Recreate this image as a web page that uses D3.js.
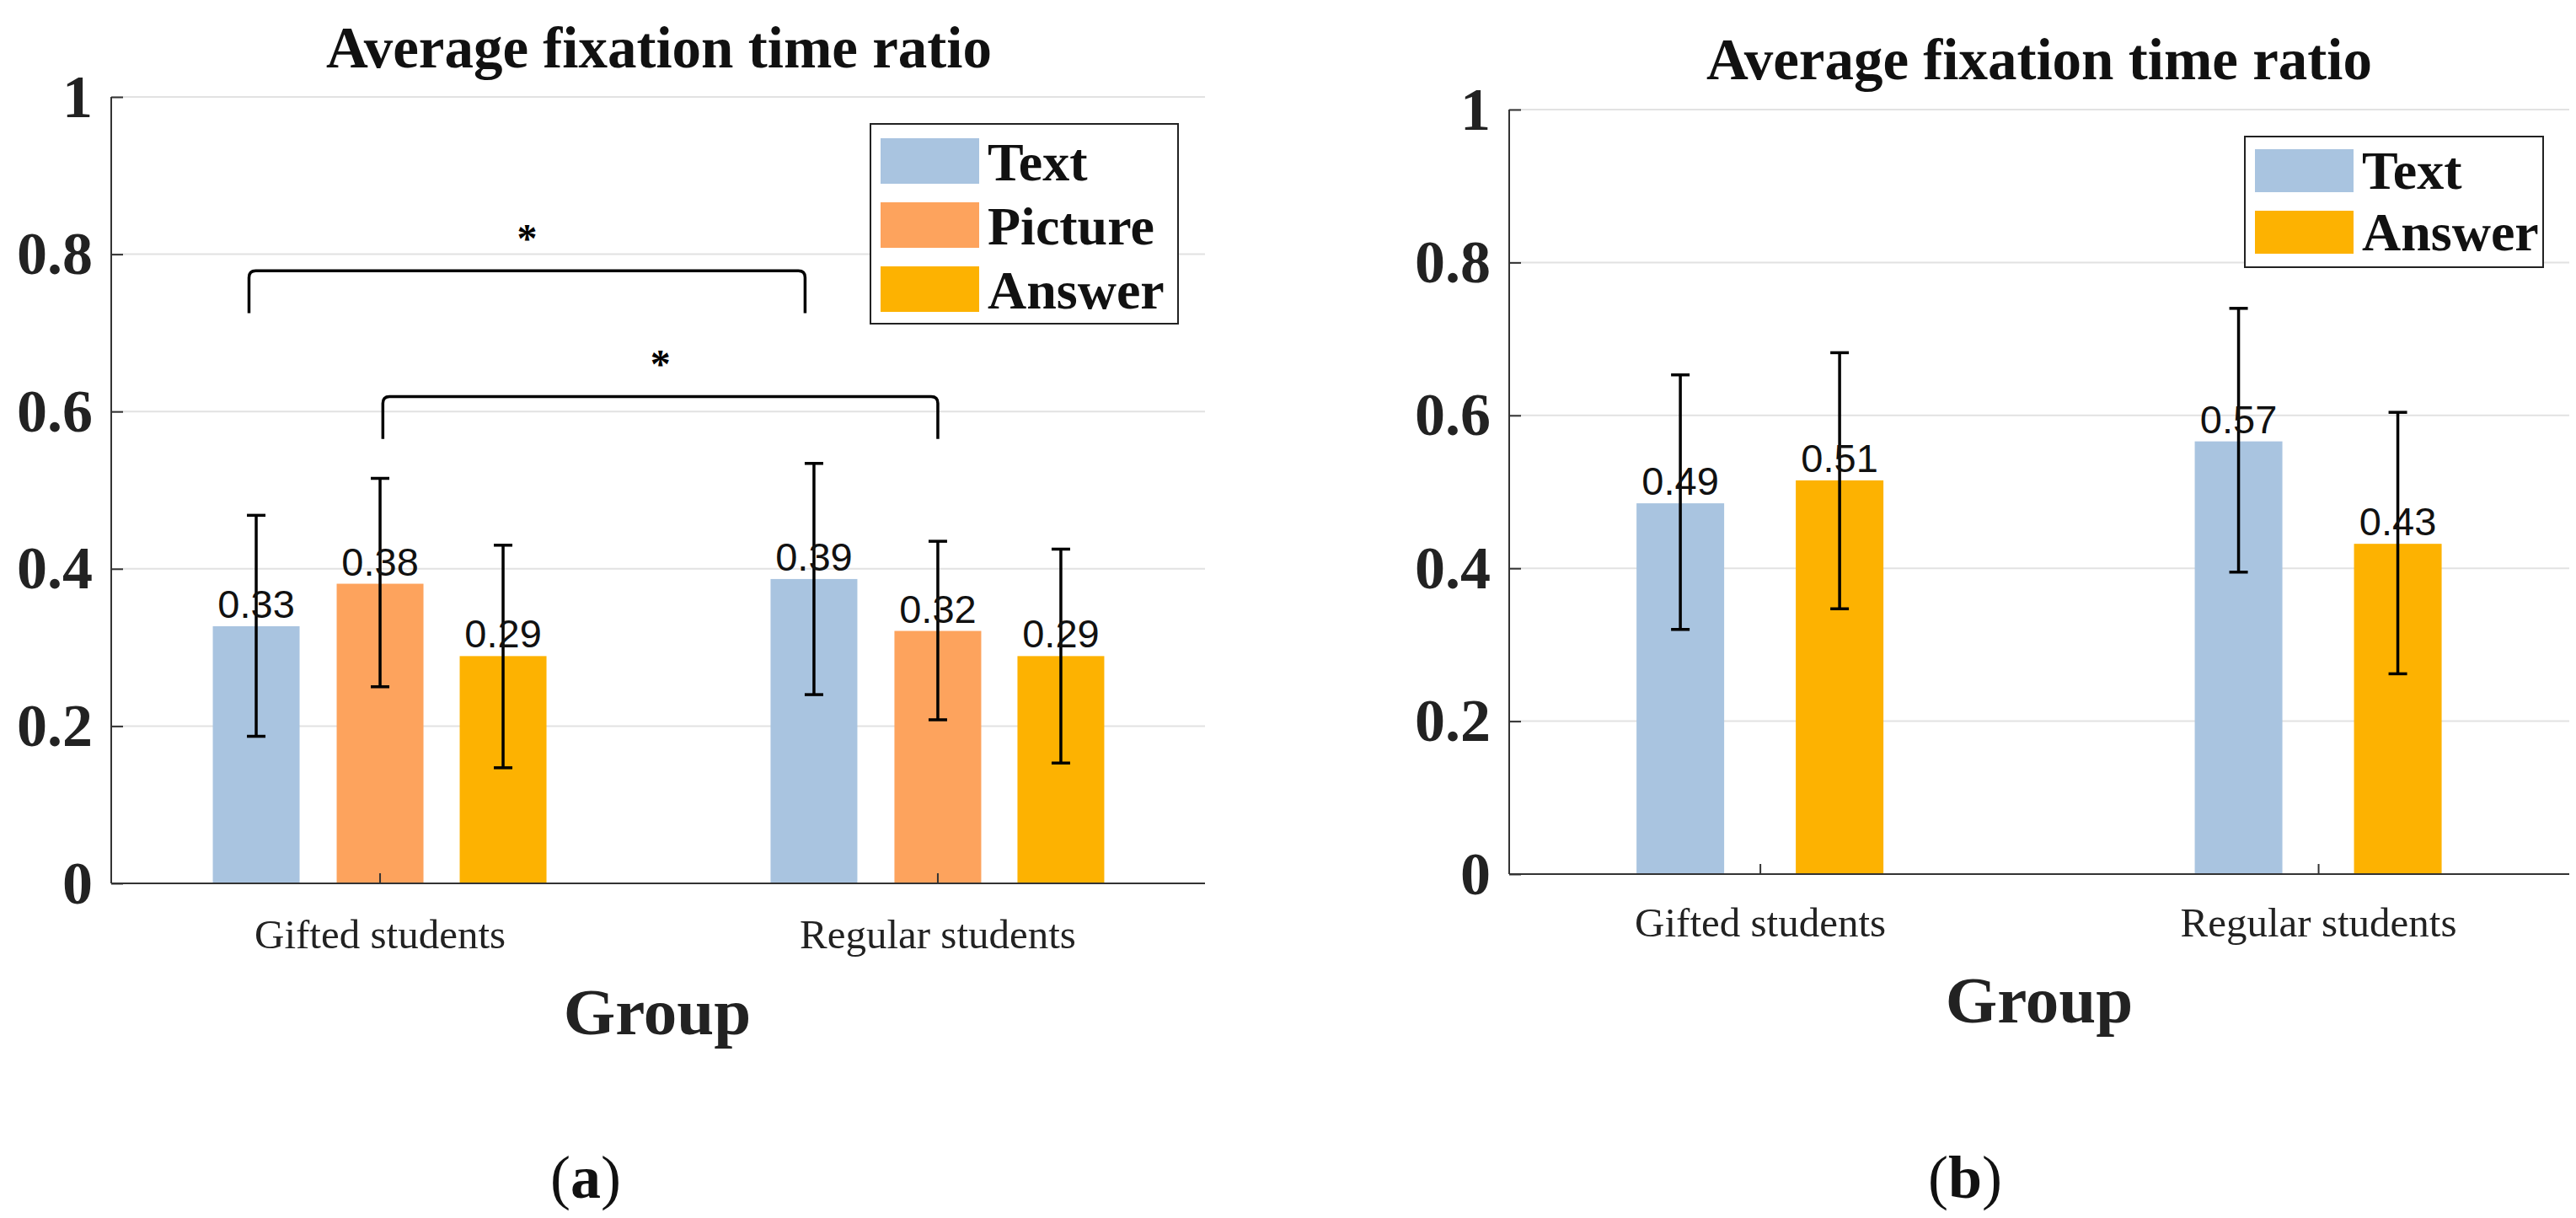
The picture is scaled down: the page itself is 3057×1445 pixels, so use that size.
<!DOCTYPE html>
<html><head><meta charset="utf-8">
<script src="https://cdn.jsdelivr.net/npm/d3@7/dist/d3.min.js"></script>
<style>body{margin:0;background:#fff}</style></head>
<body><svg id="c" width="3057" height="1445"></svg>
<script>
const categories = ["Gifted students", "Regular students"];
const yTicks = [0, 0.2, 0.4, 0.6, 0.8, 1];
const yTickLabels = ["0", "0.2", "0.4", "0.6", "0.8", "1"];
// Panel (a)
const seriesA = ["Text", "Picture", "Answer"];
const valuesA = [[0.327, 0.381, 0.289], [0.387, 0.321, 0.289]];
const labelsA = [["0.33", "0.38", "0.29"], ["0.39", "0.32", "0.29"]];
const errLowA = [[0.187, 0.250, 0.147], [0.240, 0.208, 0.153]];
const errHighA = [[0.468, 0.515, 0.430], [0.534, 0.435, 0.425]];
// significance brackets: [x1, x2, top, bottom]
const bracketsA = [[0.765, 1.762, 0.779, 0.725], [1.005, 2.0, 0.619, 0.565]];
// Panel (b)
const seriesB = ["Text", "Answer"];
const valuesB = [[0.485, 0.515], [0.566, 0.432]];
const labelsB = [["0.49", "0.51"], ["0.57", "0.43"]];
const errLowB = [[0.320, 0.347], [0.395, 0.262]];
const errHighB = [[0.653, 0.682], [0.740, 0.604]];
const colors = {Text: "#a9c4e0", Picture: "#fda35d", Answer: "#fdb201"};

const svg = d3.select("#c");
const serif = "'Liberation Serif','Times New Roman',serif";

function panel(o) {
  const g = svg.append("g");
  const x = d3.scaleLinear().domain(o.xDomain).range([o.left, o.right]);
  const y = d3.scaleLinear().domain([0, 1]).range([o.bottom, o.top]);
  g.selectAll(".grid").data(yTicks.slice(1)).enter().append("line")
    .attr("x1", o.left).attr("x2", o.right).attr("y1", d => y(d)).attr("y2", d => y(d))
    .attr("stroke", "#e2e2e2").attr("stroke-width", 2);
  categories.forEach((c, i) => {
    o.series.forEach((s, j) => {
      const cx = x(i + 1) + o.offsets[j];
      g.append("rect").attr("x", cx - o.bw / 2).attr("width", o.bw)
        .attr("y", y(o.values[i][j])).attr("height", y(0) - y(o.values[i][j]))
        .attr("fill", colors[s]);
    });
  });
  const ya = d3.axisLeft(y).tickValues(yTicks).tickFormat((d, i) => yTickLabels[i]).tickSize(-14).tickPadding(22);
  const yg = g.append("g").attr("transform", `translate(${o.left},0)`).call(ya);
  yg.select(".domain").remove();
  yg.selectAll("line").attr("stroke", "#333").attr("stroke-width", 2);
  yg.selectAll("text").attr("font-family", serif).attr("font-weight", "bold").attr("font-size", 72).attr("fill", "#222");
  g.append("line").attr("x1", o.left).attr("x2", o.left).attr("y1", o.top).attr("y2", o.bottom).attr("stroke", "#333").attr("stroke-width", 2);
  g.append("line").attr("x1", o.left).attr("x2", o.right).attr("y1", o.bottom).attr("y2", o.bottom).attr("stroke", "#333").attr("stroke-width", 2);
  categories.forEach((c, i) => {
    g.append("line").attr("x1", x(i + 1)).attr("x2", x(i + 1)).attr("y1", o.bottom).attr("y2", o.bottom - 12).attr("stroke", "#333").attr("stroke-width", 2);
    g.append("text").attr("x", x(i + 1)).attr("y", o.catY).attr("text-anchor", "middle")
      .attr("font-family", serif).attr("font-size", 49).attr("fill", "#222").text(c);
  });
  categories.forEach((c, i) => {
    o.series.forEach((s, j) => {
      const cx = x(i + 1) + o.offsets[j];
      const lo = y(o.errLow[i][j]), hi = y(o.errHigh[i][j]);
      g.append("line").attr("x1", cx).attr("x2", cx).attr("y1", lo).attr("y2", hi).attr("stroke", "#000").attr("stroke-width", 3.5);
      [lo, hi].forEach(v => g.append("line").attr("x1", cx - 11).attr("x2", cx + 11).attr("y1", v).attr("y2", v).attr("stroke", "#000").attr("stroke-width", 3.5));
      g.append("text").attr("x", cx).attr("y", y(o.values[i][j]) - 10).attr("text-anchor", "middle")
        .attr("font-family", "'Liberation Sans',Arial,sans-serif").attr("font-size", 47).attr("fill", "#111").text(o.labels[i][j]);
    });
  });
  (o.brackets || []).forEach(b => {
    const x1 = x(b[0]), x2 = x(b[1]), t = y(b[2]), bt = y(b[3]);
    g.append("path").attr("d", `M${x1},${bt} L${x1},${t + 8} Q${x1},${t} ${x1 + 8},${t} L${x2 - 8},${t} Q${x2},${t} ${x2},${t + 8} L${x2},${bt}`)
      .attr("fill", "none").attr("stroke", "#000").attr("stroke-width", 3.5);
    g.append("text").attr("x", (x1 + x2) / 2).attr("y", t - 22).attr("text-anchor", "middle")
      .attr("font-family", serif).attr("font-weight", "bold").attr("font-size", 48).text("*");
  });
  g.append("text").attr("x", o.titleX).attr("y", o.titleY).attr("text-anchor", "middle")
    .attr("font-family", serif).attr("font-weight", "bold").attr("font-size", 69).attr("fill", "#111").text("Average fixation time ratio");
  g.append("text").attr("x", o.groupX).attr("y", o.groupY).attr("text-anchor", "middle")
    .attr("font-family", serif).attr("font-weight", "bold").attr("font-size", 79).attr("fill", "#222").text("Group");
  const lab = g.append("text").attr("x", o.tagX).attr("y", 1421).attr("text-anchor", "middle")
    .attr("font-family", serif).attr("font-size", 72).attr("fill", "#111");
  lab.append("tspan").text("(");
  lab.append("tspan").attr("font-weight", "bold").text(o.tag);
  lab.append("tspan").text(")");
  const L = o.legend;
  g.append("rect").attr("x", L.x).attr("y", L.y).attr("width", L.w).attr("height", L.h)
    .attr("fill", "#fff").attr("stroke", "#222").attr("stroke-width", 2);
  o.series.forEach((s, j) => {
    const ry = L.y + L.pad + j * L.step;
    g.append("rect").attr("x", L.x + 12).attr("y", ry).attr("width", 117).attr("height", L.sh).attr("fill", colors[s]);
    g.append("text").attr("x", L.x + 139).attr("y", ry + L.sh - 4).attr("font-family", serif).attr("font-weight", "bold")
      .attr("font-size", 64).attr("fill", "#111").text(s);
  });
}

panel({
  left: 132, right: 1430, top: 115, bottom: 1048, xDomain: [0.518, 2.479],
  series: seriesA, values: valuesA, labels: labelsA, errLow: errLowA, errHigh: errHighA,
  offsets: [-147, 0, 146], bw: 103, brackets: bracketsA,
  titleX: 782, titleY: 80, groupX: 780, groupY: 1227, catY: 1125, tag: "a", tagX: 695,
  legend: {x: 1033, y: 147, w: 365, h: 237, pad: 17, step: 76, sh: 54}
});
panel({
  left: 1791, right: 3049, top: 130, bottom: 1037, xDomain: [0.55, 2.449],
  series: seriesB, values: valuesB, labels: labelsB, errLow: errLowB, errHigh: errHighB,
  offsets: [-95, 94], bw: 104,
  titleX: 2420, titleY: 94, groupX: 2420, groupY: 1213, catY: 1111, tag: "b", tagX: 2332,
  legend: {x: 2664, y: 162, w: 354, h: 155, pad: 15, step: 73, sh: 51}
});
</script></body></html>
